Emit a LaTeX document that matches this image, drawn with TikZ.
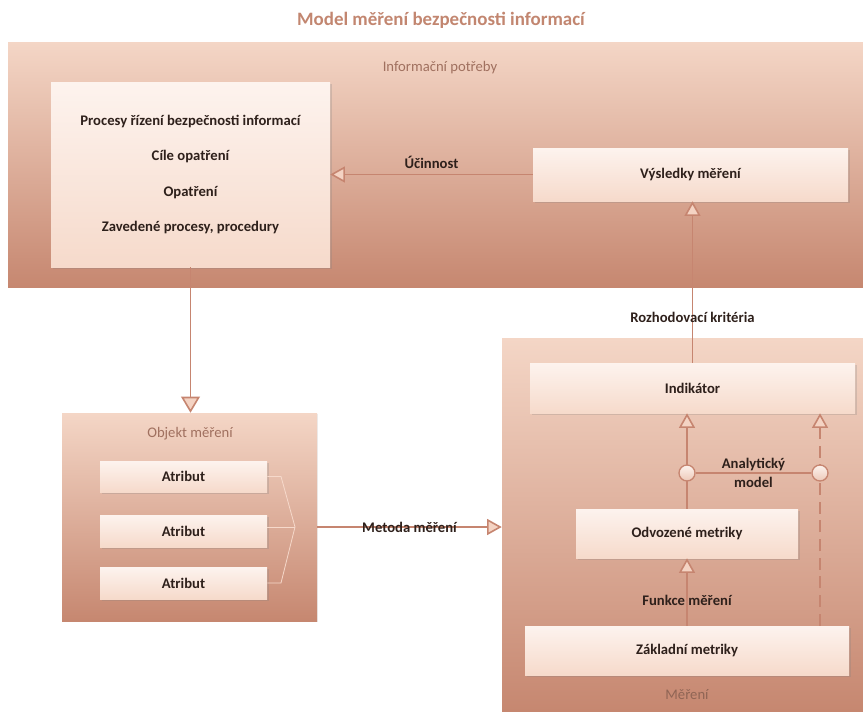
\documentclass[tikz,border=0pt]{standalone}
\usepackage{fontspec}
\setmainfont{Carlito}
\usetikzlibrary{arrows.meta,fit,shadows}
\definecolor{linec}{HTML}{C68570}
\definecolor{tipfill}{HTML}{F4D3C3}
\definecolor{contTop}{HTML}{F4D6C6}
\definecolor{contBot}{HTML}{C68770}
\definecolor{innTop}{HTML}{FDF3EE}
\definecolor{innBot}{HTML}{F6DACB}
\definecolor{titlec}{HTML}{C28670}
\definecolor{lblc}{HTML}{A0705F}
\definecolor{txtc}{HTML}{2E201B}
\definecolor{chevc}{HTML}{F6D9CB}
\tikzset{
  cont/.style={inner sep=0pt, draw=none, top color=contTop, bottom color=contBot,
     drop shadow={shadow xshift=1pt, shadow yshift=-1pt, opacity=0.15}},
  inbox/.style={inner sep=0pt, draw=none, top color=innTop, bottom color=innBot,
     drop shadow={shadow xshift=1.2pt, shadow yshift=-1.2pt, opacity=0.25},
     text=txtc, font=\fontsize{11}{13}\selectfont\bfseries, align=center},
  bx/.style 2 args={inbox, minimum width=#1*0.75pt, minimum height=#2*0.75pt},
  clbl/.style={text=lblc, font=\fontsize{11}{13}\selectfont, inner sep=1pt},
  elbl/.style={text=txtc, font=\fontsize{11}{13}\selectfont\bfseries, inner sep=1pt, align=center},
  conn/.style={draw=linec, line width=1.2pt},
  tip/.style={-{Triangle[length=11pt, width=12pt, fill=tipfill]}},
  bigtip/.style={-{Triangle[length=12pt, width=14pt, fill=tipfill]}},
  circ/.style={circle, draw=linec, line width=1pt, inner sep=0pt, minimum size=12pt,
     top color=innTop, bottom color=innBot!80!linec},
}
\begin{document}
\begin{tikzpicture}[x=0.75pt,y=-0.75pt]
\useasboundingbox (0,0) rectangle (863,711);
% title
\node[text=titlec, font=\fontsize{14.2}{17}\selectfont\bfseries] (title) at (441,20) {Model měření bezpečnosti informací};
% containers
\node[cont, fit={(8,42)(863,287)}] (info) {};
\node[clbl] (infolbl) at (440,68) {Informační potřeby};
\node[cont, fit={(62,413)(317,621)}] (obj) {};
\node[clbl] (objlbl) at (190,434) {Objekt měření};
\node[cont, fit={(502,338)(863,711)}] (mer) {};
\node[clbl, text=lblc!90!black] (merlbl) at (687,695) {Měření};
% inner boxes
\node[bx={279}{185}, font=\fontsize{11}{26.6}\selectfont\bfseries] (proc) at (190.5,174.5)
  {Procesy řízení bezpečnosti informací\\Cíle opatření\\Opatření\\Zavedené procesy, procedury};
\node[bx={315}{53}] (res) at (690.5,174.5) {Výsledky měření};
\node[bx={167}{31}] (a1) at (183.5,476.5) {Atribut};
\node[bx={167}{32}] (a2) at (183.5,531) {Atribut};
\node[bx={167}{32}] (a3) at (183.5,583) {Atribut};
\node[bx={325}{50}] (ind) at (692.5,388) {Indikátor};
\node[bx={222}{49}] (odv) at (687,533.5) {Odvozené metriky};
\node[bx={324}{49}] (zak) at (687,650.5) {Základní metriky};
% chevron joining attributes
\coordinate (chev) at (295,527);
\coordinate (ch1) at (281,0);
\draw[chevc, line width=0.6pt] (a1.east) -- (a1.east -| ch1) -- (chev) -- (a3.east -| ch1) -- (a3.east);
\draw[chevc, line width=0.6pt] (a2.east |- chev) -- (chev);
% connectors
\draw[conn, tip] (res.west) -- (res.west -| proc.east)
  node[elbl, midway, above=3pt] (ucin) {Účinnost};
\draw[conn, tip] (ind.north) -- (ind.north |- res.south)
  node[elbl, pos=0.28] (rozh) {Rozhodovací kritéria};
\draw[conn, bigtip] (proc.south) -- (proc.south |- obj.north);
\draw[conn, tip] (chev -| obj.east) -- (chev -| mer.west)
  node[elbl, midway] (met) {Metoda měření};
\draw[conn, tip] (odv.north) -- (odv.north |- ind.south);
\draw[conn, tip] (zak.north -| odv.south) -- (odv.south)
  node[elbl, pos=0.38] (funk) {Funkce měření};
\coordinate (dx) at (820,0);
\coordinate (ay) at (0,473);
\draw[conn, tip, dash pattern=on 9pt off 5pt] (zak.north -| dx) -- (ind.south -| dx);
\node[circ] (c1) at (odv.north |- ay) {};
\node[circ] (c2) at (dx |- ay) {};
\draw[conn] (c1) -- (c2)
  node[elbl, midway, font=\fontsize{11}{14.5}\selectfont\bfseries] (anal) {Analytický\\model};
\end{tikzpicture}
\end{document}
